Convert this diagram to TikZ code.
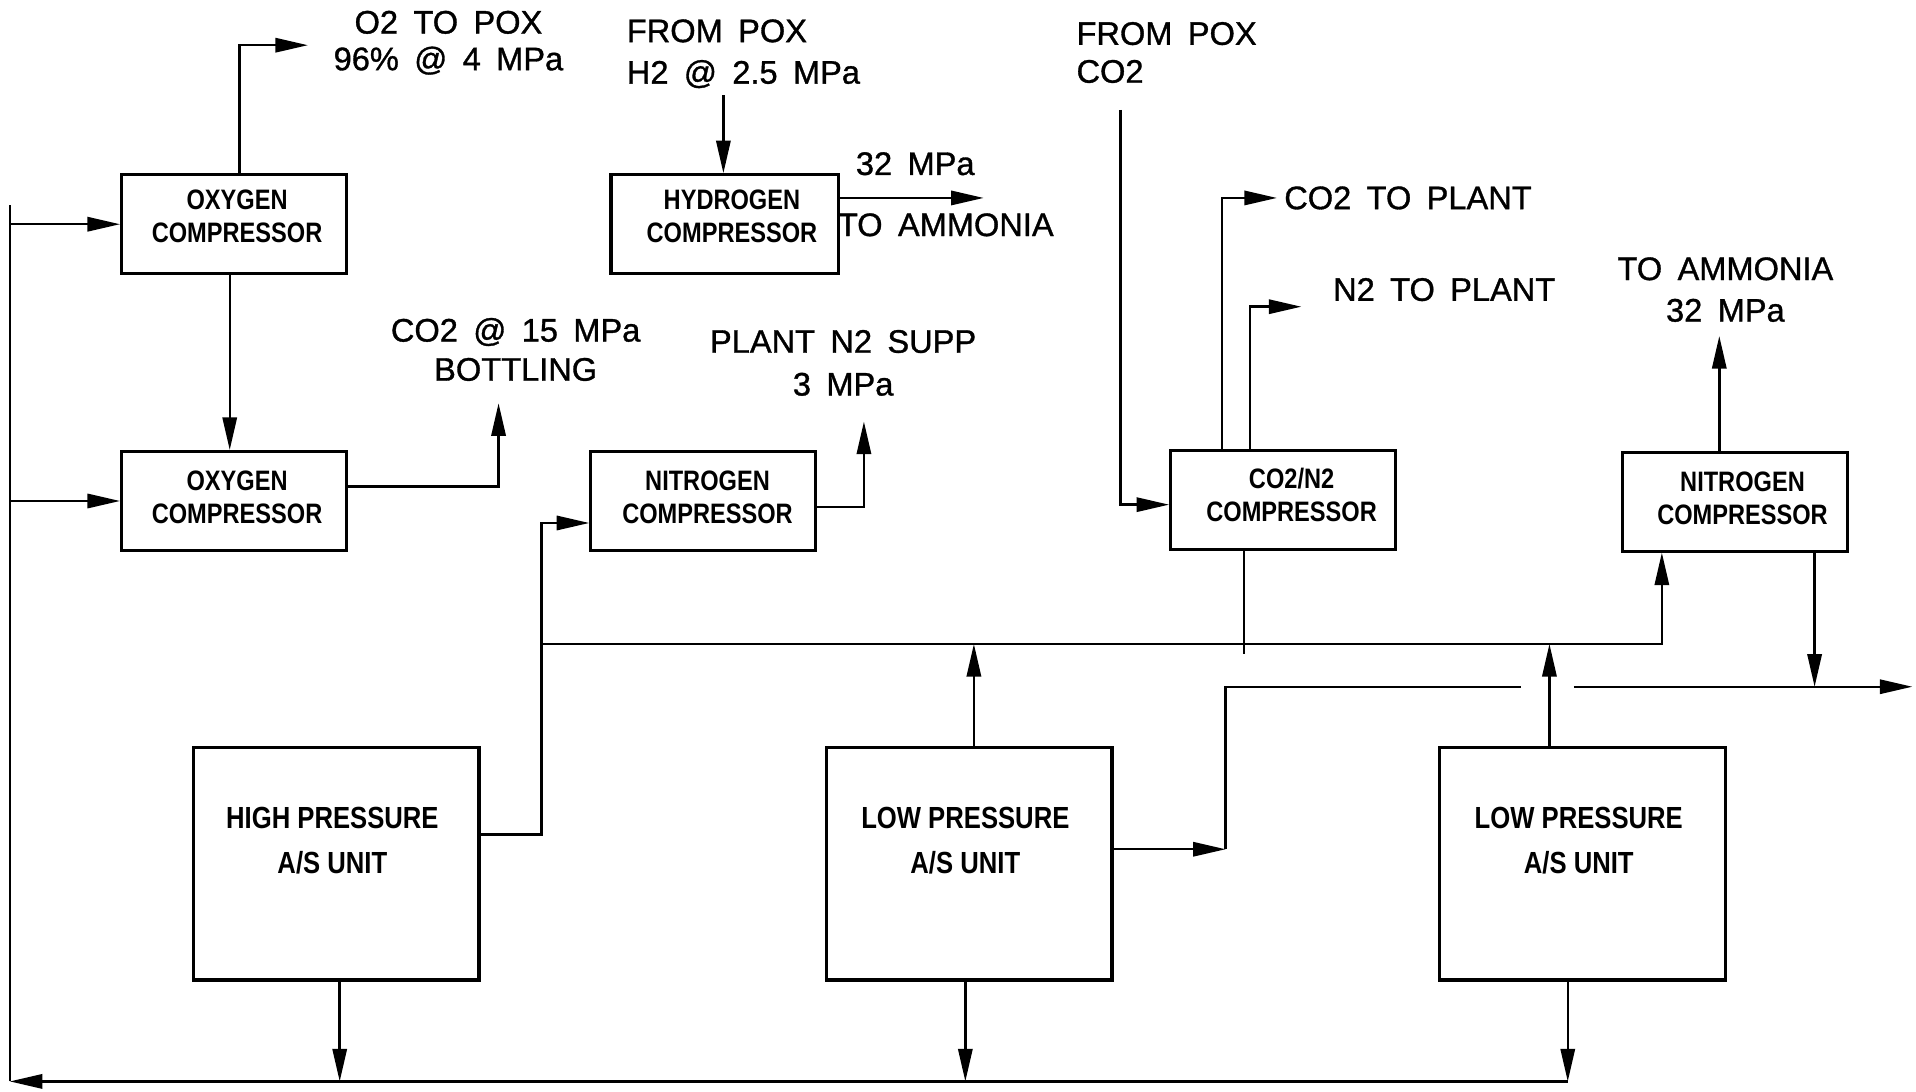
\documentclass[tikz,border=0pt]{standalone}
\usepackage{fontspec}
\setmainfont[FakeBold=1,WordSpace=1.7]{Liberation Sans}
\newfontfamily\boxfont[FakeStretch=0.84]{Liberation Sans Bold}
\usetikzlibrary{arrows.meta,calc}
\begin{document}
\begin{tikzpicture}[x=0.6pt,y=-0.6pt,
  line width=1.2pt,
  arr/.style={-{Triangle[length=16pt,width=7pt]}},
  comp/.style={draw,line width=1.5pt,minimum width=110.4pt,minimum height=48.6pt,inner sep=0pt},
  asu/.style={draw,line width=1.5pt,minimum width=140.4pt,minimum height=114pt,inner sep=0pt},
  clbl/.style={inner sep=0pt,align=center,font=\boxfont\fontsize{13.8}{16.2}\selectfont},
  ulbl/.style={inner sep=0pt,align=center,font=\boxfont\fontsize{15}{22.2}\selectfont},
  tlbl/.style={inner sep=0pt,font=\fontsize{16}{20}\selectfont},
]
\useasboundingbox (0,0) rectangle (1568,893);

% boxes
\node[comp] (OXC1) at (191.5,183.5) {};
\node[comp] (OXC2) at (191.5,410) {};
\node[comp,minimum width=111.6pt] (HYC) at (593,183.5) {};
\node[comp] (NC1) at (575.5,410) {};
\node[comp] (CNC) at (1050,409) {};
\node[comp] (NC2) at (1420,410.5) {};
\node[asu] (HP) at (275,707) {};
\node[asu] (LP1) at (793,707) {};
\node[asu] (LP2) at (1295,707) {};

% box texts
\node[clbl] (OXC1t) at (194,177) {OXYGEN\\COMPRESSOR};
\node[clbl] (OXC2t) at (194,407) {OXYGEN\\COMPRESSOR};
\node[clbl] (HYCt) at (599,177) {HYDROGEN\\COMPRESSOR};
\node[clbl] (NC1t) at (579,407) {NITROGEN\\COMPRESSOR};
\node[clbl] (CNCt) at (1057,405) {CO2/N2\\COMPRESSOR};
\node[clbl] (NC2t) at (1426,408) {NITROGEN\\COMPRESSOR};
\node[ulbl] (HPt) at (272,688) {HIGH PRESSURE\\A/S UNIT};
\node[ulbl] (LP1t) at (790,688) {LOW PRESSURE\\A/S UNIT};
\node[ulbl] (LP2t) at (1292,688) {LOW PRESSURE\\A/S UNIT};

% free labels
\node[tlbl,align=center,font=\fontsize{16}{18}\selectfont] (o2t) at (367,35) {O2 TO POX\\96\% @ 4 MPa};
\node[tlbl,align=left,anchor=west,font=\fontsize{16}{20.4}\selectfont] (h2t) at (512,44) {FROM POX\\H2 @ 2.5 MPa};
\node[tlbl,align=left,anchor=west,font=\fontsize{16}{18.6}\selectfont] (co2t) at (880,43) {FROM POX\\CO2};
\node[tlbl] (hy32) at (749,134) {32 MPa};
\node[tlbl] (hyamm) at (774,184) {TO AMMONIA};
\node[tlbl,anchor=west] (co2pl) at (1050,162) {CO2 TO PLANT};
\node[tlbl,anchor=west] (n2pl) at (1090,237) {N2 TO PLANT};
\node[tlbl,align=center,font=\fontsize{16}{20.4}\selectfont] (amm2) at (1412,237) {TO AMMONIA\\32 MPa};
\node[tlbl,align=center,font=\fontsize{16}{19.2}\selectfont] (bott) at (422,286) {CO2 @ 15 MPa\\BOTTLING};
\node[tlbl,align=center,font=\fontsize{16}{21}\selectfont] (n2sup) at (690,297) {PLANT N2 SUPP\\3 MPa};

% coordinates
\coordinate (Ltop) at (8,168);
\coordinate (Lbot) at (8,885);
\coordinate (busR) at (1283,885);
\coordinate (xHPd) at (278,885);
\coordinate (xLP1d) at (790,885);
\coordinate (o2e) at (252,37);
\coordinate (o2x) at (196,0);
\coordinate (x188) at (188,0);
\coordinate (bottE) at (408,330);
\coordinate (y398) at (0,398);
\coordinate (h2in) at (592,78);
\coordinate (hyE) at (805,162);
\coordinate (n2E) at (707,345);
\coordinate (y415) at (0,415);
\coordinate (hpc) at (443,428);
\coordinate (y683) at (0,683);
\coordinate (hdrL) at (443,527);
\coordinate (hdrR) at (1360,527);
\coordinate (x797) at (797,0);
\coordinate (x1268) at (1268,0);
\coordinate (cnb) at (1018,535);
\coordinate (lpc) at (1003,695);
\coordinate (lowA) at (1245,562);
\coordinate (lowB) at (1288,562);
\coordinate (lowE) at (1565,562);
\coordinate (x1485) at (1485,562);
\coordinate (ammE) at (1407,275);
\coordinate (co2in) at (917,90);
\coordinate (y413) at (0,413);
\coordinate (co2E) at (1045,162);
\coordinate (x1000) at (1000,0);
\coordinate (n2E2) at (1065,251);
\coordinate (x1023) at (1023,0);

% connectors
\draw[arr] (busR) -- (Lbot);
\draw (Lbot) -- (Ltop);
\draw[arr] (Ltop |- OXC1.west) -- (OXC1.west);
\draw[arr] (Ltop |- OXC2.west) -- (OXC2.west);
\draw[arr] (HP.south -| xHPd) -- (xHPd);
\draw[arr] (LP1.south -| xLP1d) -- (xLP1d);
\draw[arr] (LP2.south -| busR) -- (busR);

\draw[arr] (OXC1.north -| o2x) |- (o2e);
\draw[arr] (OXC1.south -| x188) -- (OXC2.north -| x188);
\draw[arr] (OXC2.east |- y398) -| (bottE);
\draw[arr] (h2in) -- (h2in |- HYC.north);
\draw[arr] (HYC.east |- hyE) -- (hyE);
\draw[arr] (NC1.east |- y415) -| (n2E);
\draw[arr] (HP.east |- y683) -| (hpc) -- (NC1.west |- hpc);

\draw[arr] (hdrL) -- (hdrR) -- (NC2.south -| hdrR);
\draw[arr] (LP1.north -| x797) -- (hdrL -| x797);
\draw[arr] (LP2.north -| x1268) -- (hdrL -| x1268);
\draw (CNC.south -| cnb) -- (cnb);

\draw[arr] (LP1.east |- lpc) -- (lpc);
\draw (lpc) |- (lowA);
\draw[arr] (lowB) -- (lowE);
\draw[arr] (NC2.south -| x1485) -- (x1485);
\draw[arr] (NC2.north -| ammE) -- (ammE);

\draw[arr] (co2in) |- (CNC.west |- y413);
\draw[arr] (CNC.north -| x1000) |- (co2E);
\draw[arr] (CNC.north -| x1023) |- (n2E2);
\end{tikzpicture}
\end{document}
